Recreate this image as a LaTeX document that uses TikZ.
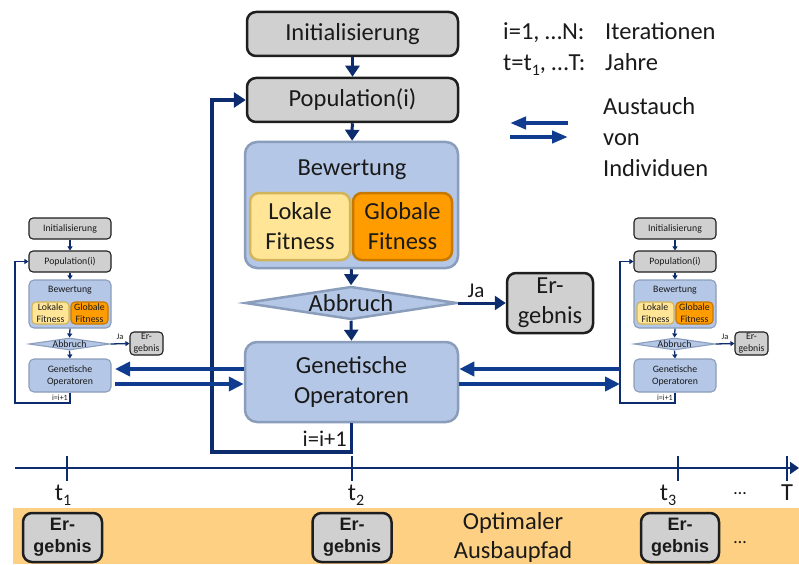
\documentclass[tikz,border=0pt]{standalone}
\usepackage{fontspec}
\setmainfont{Carlito}
\newfontfamily\arialfont{Liberation Sans}
\usetikzlibrary{shapes.geometric,arrows.meta}
\definecolor{boxgray}{HTML}{D0D0D0}
\definecolor{grayline}{HTML}{1E1E1E}
\definecolor{boxblue}{HTML}{B4C7E7}
\definecolor{blueline}{HTML}{8A9DBA}
\definecolor{lokfill}{HTML}{FFE595}
\definecolor{lokline}{HTML}{D2B45A}
\definecolor{glofill}{HTML}{FF9C00}
\definecolor{gloline}{HTML}{C67800}
\definecolor{navy}{HTML}{0D2C6E}
\definecolor{xblue}{HTML}{0F3C8E}
\definecolor{bandcol}{HTML}{FDD084}
\definecolor{txt}{HTML}{1A1A1A}
\begin{document}
\begin{tikzpicture}[x=1pt,y=-1pt,
  font=\fontsize{24.5}{30}\selectfont, text=txt,
  gbox/.style={draw=grayline, fill=boxgray, line width=2.5pt, rounded corners=9pt, inner sep=0pt, align=center},
  bbox/.style={draw=blueline, fill=boxblue, line width=2.5pt, rounded corners=12pt, inner sep=0pt, align=center},
  lbox/.style={draw=lokline, fill=lokfill, line width=2.5pt, rounded corners=9pt, inner sep=0pt, align=center},
  obox/.style={draw=gloline, fill=glofill, line width=2.5pt, rounded corners=9pt, inner sep=0pt, align=center},
  dbox/.style={shape=diamond, draw=blueline, fill=boxblue, line width=2.5pt, inner sep=0pt},
  flow/.style={draw=navy, line width=3pt, -{Triangle[length=11pt,width=14pt]}},
  loopline/.style={draw=navy, line width=3.5pt, -{Triangle[length=12pt,width=15pt]}},
  xarr/.style={draw=xblue, line width=4pt, -{Triangle[length=15pt,width=14pt]}},
  tline/.style={draw=navy, line width=2.5pt},
  sfont/.style={font=\fontsize{9.8}{12.2}\selectfont},
  sg/.style={gbox, line width=1.1pt, rounded corners=4pt, sfont},
  sb/.style={bbox, line width=1.1pt, rounded corners=5pt, sfont},
  sl/.style={lbox, line width=1.1pt, rounded corners=4pt, sfont},
  so/.style={obox, line width=1.1pt, rounded corners=4pt, sfont},
  sd/.style={dbox, line width=1.1pt},
  sflow/.style={draw=navy, line width=1.3pt, -{Triangle[length=4pt,width=5pt]}},
  plain/.style={inner sep=0pt}
]
\useasboundingbox (0,0) rectangle (799,564);

% ---------------- main diagram ----------------
\node[gbox, minimum width=211pt, minimum height=44pt] (init) at (352.5,34) {Initialisierung};
\node[gbox, minimum width=211pt, minimum height=44pt] (pop) at (352.5,100) {Population(i)};
\node[bbox, minimum width=213pt, minimum height=126pt] (bew) at (351.5,205) {};
\node[plain] (bewt) at (352,170) {Bewertung};
\node[lbox, minimum width=100pt, minimum height=67pt] (lok) at (300,226.5) {Lokale\\Fitness};
\node[obox, minimum width=99pt, minimum height=67pt] (glo) at (402.5,226.5) {Globale\\Fitness};
\node[dbox, minimum width=212pt, minimum height=33pt] (abb) at (351,303) {};
\node[plain] (abbt) at (abb) {Abbruch};
\node[gbox, minimum width=86pt, minimum height=60pt] (erg) at (550,303) {Er-\\gebnis};
\node[bbox, minimum width=213pt, minimum height=80pt] (gen) at (351.5,382) {Genetische\\Operatoren};

\draw[flow] (init) -- (pop);
\draw[flow] (pop) -- (bew);
\draw[flow] (bew.south) -- (abb.north);
\draw[flow] (abb.south) -- (gen.north);
\draw[flow] (abb.east) -- (erg.west);
\node[plain, anchor=base, font=\fontsize{21}{24}\selectfont] (ja) at (476,297) {Ja};

\coordinate (lc) at (212,452);
\draw[loopline] (gen.south) |- (lc) |- (pop.west);
\node[plain, anchor=base east, font=\fontsize{22.5}{26}\selectfont] (iinc) at (347,446) {i=i+1};

% ---------------- small diagrams ----------------
\foreach \o/\s in {0/L,605/R}{
\begin{scope}[xshift=\o pt]
\node[sg, minimum width=82pt, minimum height=21pt] (sini\s) at (70,228.5) {Initialisierung};
\node[sg, minimum width=82pt, minimum height=21pt] (spop\s) at (70,261.5) {Population(i)};
\node[sb, minimum width=82pt, minimum height=48pt] (sbew\s) at (70,304) {};
\node[plain, sfont] (sbewt\s) at (70,290) {Bewertung};
\node[sl, minimum width=37pt, minimum height=22pt] (slok\s) at (50.5,313) {Lokale\\Fitness};
\node[so, minimum width=37pt, minimum height=22pt] (sglo\s) at (89.5,313) {Globale\\Fitness};
\node[sd, minimum width=81pt, minimum height=12pt] (sabb\s) at (69.5,344) {};
\node[plain, sfont] (sabbt\s) at (sabb\s) {Abbruch};
\node[sg, minimum width=33pt, minimum height=23pt] (serg\s) at (146.5,343.5) {Er-\\gebnis};
\node[sb, minimum width=82pt, minimum height=33pt] (sgen\s) at (70,375.5) {Genetische\\Operatoren};
\draw[sflow] (sini\s) -- (spop\s);
\draw[sflow] (spop\s) -- (sbew\s);
\draw[sflow] (sbew\s.south) -- (sabb\s.north);
\draw[sflow] (sabb\s.south) -- (sgen\s.north);
\draw[sflow] (sabb\s.east) -- (serg\s.west);
\node[plain, anchor=base, font=\fontsize{8.5}{10}\selectfont] (sja\s) at (120,339) {Ja};
\coordinate (slc\s) at (15,403);
\draw[sflow] (sgen\s.south) |- (slc\s) |- (spop\s.west);
\node[plain, anchor=base east, font=\fontsize{8}{10}\selectfont] (sinc\s) at (68,400) {i=i+1};
\end{scope}
}

% ---------------- exchange arrows ----------------
\coordinate (xl1) at (115,369);
\coordinate (xl2) at (115,384);
\coordinate (xr1) at (620,369);
\coordinate (xr2) at (620,384);
\draw[xarr] (gen.west |- xl1) -- (xl1);
\draw[xarr] (xl2) -- (gen.west |- xl2);
\draw[xarr] (xr1) -- (gen.east |- xr1);
\draw[xarr] (gen.east |- xr2) -- (xr2);

% ---------------- legend ----------------
\node[plain, anchor=base west] (leg1) at (503,40) {i=1, …N:};
\node[plain, anchor=base west] (leg1b) at (605,40) {Iterationen};
\node[plain, anchor=base west] (leg2) at (503,71) {t=t\raisebox{-5pt}{\fontsize{16}{16}\selectfont 1}, …T:};
\node[plain, anchor=base west] (leg2b) at (605,71) {Jahre};
\coordinate (la1) at (510,123);
\coordinate (la2) at (568,123);
\coordinate (lb1) at (510,137);
\coordinate (lb2) at (568,137);
\draw[xarr, -{Triangle[length=16pt,width=12pt]}] (la2) -- (la1);
\draw[xarr, -{Triangle[length=16pt,width=12pt]}] (lb1) -- (lb2);
\node[plain, anchor=base west] (aus1) at (603,115) {Austauch};
\node[plain, anchor=base west] (aus2) at (603,146) {von};
\node[plain, anchor=base west] (aus3) at (603,176) {Individuen};

% ---------------- timeline ----------------
\coordinate (ta) at (15,468);
\coordinate (tb) at (799,468);
\draw[tline, -{Triangle[length=9pt,width=12pt]}] (ta) -- (tb);
\foreach \x in {67,352,678,787}{
  \draw[tline] (\x,456) -- (\x,481);
}
\node[plain, anchor=base] (t1) at (63,500) {t\raisebox{-5pt}{\fontsize{16}{16}\selectfont 1}};
\node[plain, anchor=base] (t2) at (356,500) {t\raisebox{-5pt}{\fontsize{16}{16}\selectfont 2}};
\node[plain, anchor=base] (t3) at (668,500) {t\raisebox{-5pt}{\fontsize{16}{16}\selectfont 3}};
\node[plain, anchor=base, font=\fontsize{18}{20}\selectfont] (tdots) at (740,494) {…};
\node[plain, anchor=base] (tT) at (787,500) {T};

% ---------------- bottom band ----------------
\fill[bandcol] (13,508) rectangle (799,564);
\node[gbox, font=\arialfont\bfseries\fontsize{18}{22}\selectfont, minimum width=79pt, minimum height=49pt] (e1) at (62.5,537.5) {Er-\\gebnis};
\node[gbox, font=\arialfont\bfseries\fontsize{18}{22}\selectfont, minimum width=79pt, minimum height=49pt] (e2) at (352,537.5) {Er-\\gebnis};
\node[gbox, font=\arialfont\bfseries\fontsize{18}{22}\selectfont, minimum width=78pt, minimum height=49pt] (e3) at (680,537.5) {Er-\\gebnis};
\node[plain, align=center, font=\fontsize{24.5}{29}\selectfont] (opt) at (513,537) {Optimaler\\Ausbaupfad};
\node[plain, anchor=base, font=\fontsize{18}{20}\selectfont] (bdots) at (740,543) {…};
\end{tikzpicture}
\end{document}
